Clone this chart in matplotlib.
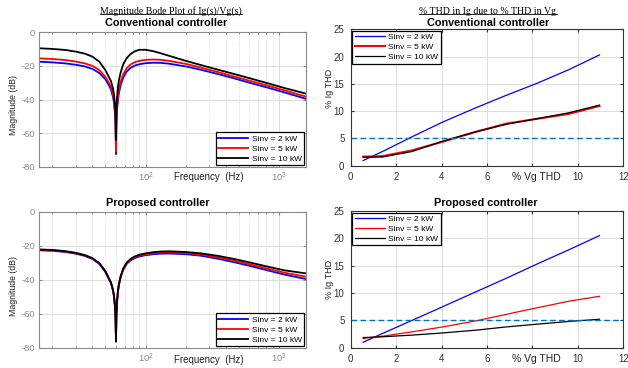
import matplotlib
matplotlib.use('Agg')
import matplotlib.pyplot as plt
from matplotlib.lines import Line2D
from matplotlib.ticker import FixedLocator, NullFormatter

plt.rcParams['font.family'] = ['Liberation Sans', 'DejaVu Sans']
plt.rcParams['axes.unicode_minus'] = False

# ---- Bode data ----
freq = [15.9, 20, 25, 30, 35, 40, 45, 50, 53, 55, 57, 58, 59, 59.5, 60, 60.5, 61, 62, 63, 65,
        68, 72, 77, 83, 90, 100, 115, 130, 150, 200, 260, 350, 460, 600, 820, 1100, 1592]

conv_2kw = [-17.5, -17.9, -18.5, -19.3, -20.3, -21.8, -24.2, -28, -31.5, -34, -38.5, -42, -48.5, -54.5,
            -72.5, -54, -47, -40.5, -36.5, -31.5, -27, -23.5, -21.2, -19.8, -19, -18.4, -18.1, -18.2,
            -18.7, -20.3, -22.3, -24.9, -27.4, -30, -32.9, -35.8, -39.6]
conv_5kw = [-15.5, -15.9, -16.5, -17.4, -18.5, -20, -22.5, -26.5, -30, -32.5, -37, -40.5, -47, -53,
            -71, -52, -45, -38.5, -34.5, -29.5, -25, -21.5, -19.2, -17.8, -17, -16.4, -16.2, -16.4,
            -17, -18.8, -21, -23.7, -26.3, -28.8, -31.7, -34.6, -38.3]
conv_10kw = [-9.5, -9.9, -10.5, -11.5, -12.7, -14.5, -17.5, -22.5, -26.5, -29, -33.5, -37, -43, -49,
             -64, -46, -39.5, -33, -29, -24, -19, -15.5, -13, -11.3, -10.4, -10.4, -11.3, -12.5,
             -14, -17, -19.5, -22.3, -24.8, -27.3, -30.3, -33.2, -36.5]

prop_2kw = [-22.7, -23, -23.7, -24.7, -26, -27.8, -30.7, -35.5, -39.5, -42, -46.5, -50, -56, -62,
            -75, -60.5, -54, -47.5, -43.5, -38.6, -34.2, -30.8, -28.7, -27.3, -26.3, -25.6, -25,
            -24.7, -24.6, -25, -25.9, -27.7, -29.7, -31.8, -34.5, -37, -39.6]
prop_5kw = [-22.4, -22.7, -23.4, -24.4, -25.7, -27.5, -30.4, -35.2, -39.2, -41.7, -46.2, -49.7, -55.7,
            -61.7, -75.5, -60.2, -53.7, -47.2, -43.2, -38.3, -33.8, -30.4, -28.2, -26.8, -25.8, -25.1,
            -24.5, -24.1, -24, -24.4, -25.2, -26.9, -28.8, -30.9, -33.5, -35.9, -38.2]
prop_10kw = [-22.2, -22.5, -23.2, -24.2, -25.5, -27.3, -30.2, -35, -39, -41.5, -46, -49.5, -55.5,
             -61.5, -76.5, -60, -53.5, -47, -43, -38, -33.5, -30, -27.8, -26.3, -25.3, -24.5, -23.8,
             -23.4, -23.3, -23.7, -24.5, -26, -27.8, -29.8, -32.3, -34.5, -36.3]

# ---- THD data ----
vg_thd = [0.55, 1.4, 2.7, 4.05, 5.5, 6.85, 8.2, 9.6, 10.95]
ig_conv_2kw = [0.95, 2.6, 5.3, 8.0, 10.6, 12.9, 15.1, 17.6, 20.3]
ig_conv_5kw = [1.65, 1.75, 2.8, 4.4, 6.2, 7.7, 8.6, 9.5, 10.95]
ig_conv_10kw = [1.55, 1.6, 2.6, 4.5, 6.2, 7.6, 8.6, 9.7, 11.1]
ig_prop_2kw = [1.0, 2.6, 5.0, 7.5, 10.2, 12.7, 15.3, 17.9, 20.5]
ig_prop_5kw = [1.7, 2.1, 2.9, 3.8, 4.9, 6.1, 7.3, 8.5, 9.4]
ig_prop_10kw = [1.85, 2.0, 2.3, 2.7, 3.2, 3.8, 4.3, 4.8, 5.2]
thd_limit = 5
thd_xticks = [0, 2, 4, 6, 8, 10, 12]
thd_xticklabels = ['0', '2', '4', '6', '', '10', '12']  # "8" sits under the axis label

labels = ['Sinv = 2 kW', 'Sinv = 5 kW', 'Sinv = 10 kW']
colors = ['#0000ff', '#ff0000', '#000000']

W, H = 628, 368
fig = plt.figure(figsize=(W / 100, H / 100), dpi=100)


def box(l, t, r, b):
    return [l / W, 1 - b / H, (r - l) / W, (b - t) / H]


def fpos(x, y):
    return x / W, 1 - y / H


ax1 = fig.add_axes(box(39, 32.3, 306, 166.7))
ax3 = fig.add_axes(box(39, 211.7, 306, 347.7))
ax2 = fig.add_axes(box(350.7, 29.3, 623.3, 165.7))
ax4 = fig.add_axes(box(350.7, 211, 623.3, 347.7))

# Bode plots
for ax, curves, xl_y, yl_y in [(ax1, [conv_2kw, conv_5kw, conv_10kw], 177, 105),
                                (ax3, [prop_2kw, prop_5kw, prop_10kw], 360, 286)]:
    for c, col, lab in zip(curves, colors, labels):
        ax.semilogx(freq, c, color=col, lw=1.3, label=lab)
    ax.set_xlim(15.9, 1592)
    ax.set_ylim(-80, 0)
    ax.set_yticks([-80, -60, -40, -20, 0])
    ax.xaxis.set_major_locator(FixedLocator([100, 1000]))
    ax.xaxis.set_minor_formatter(NullFormatter())
    ax.grid(True, which='major', color='#dcdcdc', lw=0.7)
    ax.grid(True, which='minor', color='#cfcfcf', lw=0.6, ls=':')
    ax.tick_params(which='both', direction='in', top=True, right=True, colors='#8a8a8a',
                   labelsize=6.8, length=2.5, pad=3)
    ax.tick_params(which='minor', length=1.5)
    for s in ax.spines.values():
        s.set_color('#8a8a8a')
        s.set_linewidth(0.8)
    ax.set_xlabel('Frequency  (Hz)', fontsize=7, color='#222222')
    ax.xaxis.set_label_coords(*fpos(209, xl_y), transform=fig.transFigure)
    ax.xaxis.label.set_va('center')
    ax.set_ylabel('Magnitude (dB)', fontsize=6.3, color='#222222')
    ax.yaxis.set_label_coords(*fpos(13, yl_y), transform=fig.transFigure)
    ax.yaxis.label.set_va('center')
    leg = ax.legend(loc='lower right', fontsize=6, fancybox=False, framealpha=1,
                    edgecolor='black', handlelength=3.6, borderaxespad=0.2,
                    borderpad=0.3, labelspacing=0.25, handletextpad=0.4)
    leg.get_frame().set_linewidth(0.9)

# THD plots
for ax, curves, xl_y, yl_y in [(ax2, [ig_conv_2kw, ig_conv_5kw, ig_conv_10kw], 176.5, 88),
                                (ax4, [ig_prop_2kw, ig_prop_5kw, ig_prop_10kw], 359, 279)]:
    widths = [0.9, 1.5 if ax is ax2 else 0.9, 0.9]
    for c, col, lab, w in zip(curves, colors, labels, widths):
        ax.plot(vg_thd, c, color=col, lw=w, label=lab)
    ax.axhline(thd_limit, color='#0072BD', lw=1.0, ls=(0, (4, 2.5)))
    ax.set_xlim(0, 12)
    ax.set_ylim(0, 25)
    ax.set_xticks(thd_xticks)
    ax.set_xticklabels(thd_xticklabels)
    ax.set_yticks([0, 5, 10, 15, 20, 25])
    ax.grid(True, color='#dcdcdc', lw=0.7)
    ax.tick_params(direction='in', top=True, right=True, colors='#333333',
                   labelsize=7, length=2.5, pad=4.5)
    for s in ax.spines.values():
        s.set_color('#333333')
        s.set_linewidth(0.8)
    ax.set_xlabel('% Vg THD', fontsize=7.5, color='#222222')
    ax.xaxis.set_label_coords(*fpos(536, xl_y), transform=fig.transFigure)
    ax.xaxis.label.set_va('center')
    ax.set_ylabel('% Ig THD', fontsize=6.5, color='#222222')
    ax.yaxis.set_label_coords(*fpos(330, yl_y), transform=fig.transFigure)
    ax.yaxis.label.set_va('center')
    leg = ax.legend(loc='upper left', fontsize=6, fancybox=False, framealpha=1,
                    edgecolor='black', handlelength=3.6, borderaxespad=0.2,
                    borderpad=0.3, labelspacing=0.25, handletextpad=0.4)
    leg.get_frame().set_linewidth(0.9)

# Titles
fig.text(*fpos(166, 23), 'Conventional controller', fontsize=7.8, fontweight='bold',
         ha='center', va='center')
fig.text(*fpos(488, 23), 'Conventional controller', fontsize=7.8, fontweight='bold',
         ha='center', va='center')
fig.text(*fpos(158, 203), 'Proposed controller', fontsize=7.8, fontweight='bold',
         ha='center', va='center')
fig.text(*fpos(486, 203), 'Proposed controller', fontsize=7.8, fontweight='bold',
         ha='center', va='center')

serif_titles = [fig.text(*fpos(171, 11), 'Magnitude Bode Plot of Ig(s)/Vg(s)', fontsize=7.1,
                         family='Liberation Serif', ha='center', va='center'),
                fig.text(*fpos(488, 11), '% THD in Ig due to % THD in Vg', fontsize=7.1,
                         family='Liberation Serif', ha='center', va='center')]

# underline the serif titles
fig.canvas.draw()
inv = fig.transFigure.inverted()
for t in serif_titles:
    bb = t.get_window_extent().transformed(inv)
    yline = bb.y0 + 1.5 / H
    fig.add_artist(Line2D([bb.x0, bb.x1], [yline, yline], color='black', lw=0.6,
                          transform=fig.transFigure))

fig.savefig('out.png', dpi=100)
